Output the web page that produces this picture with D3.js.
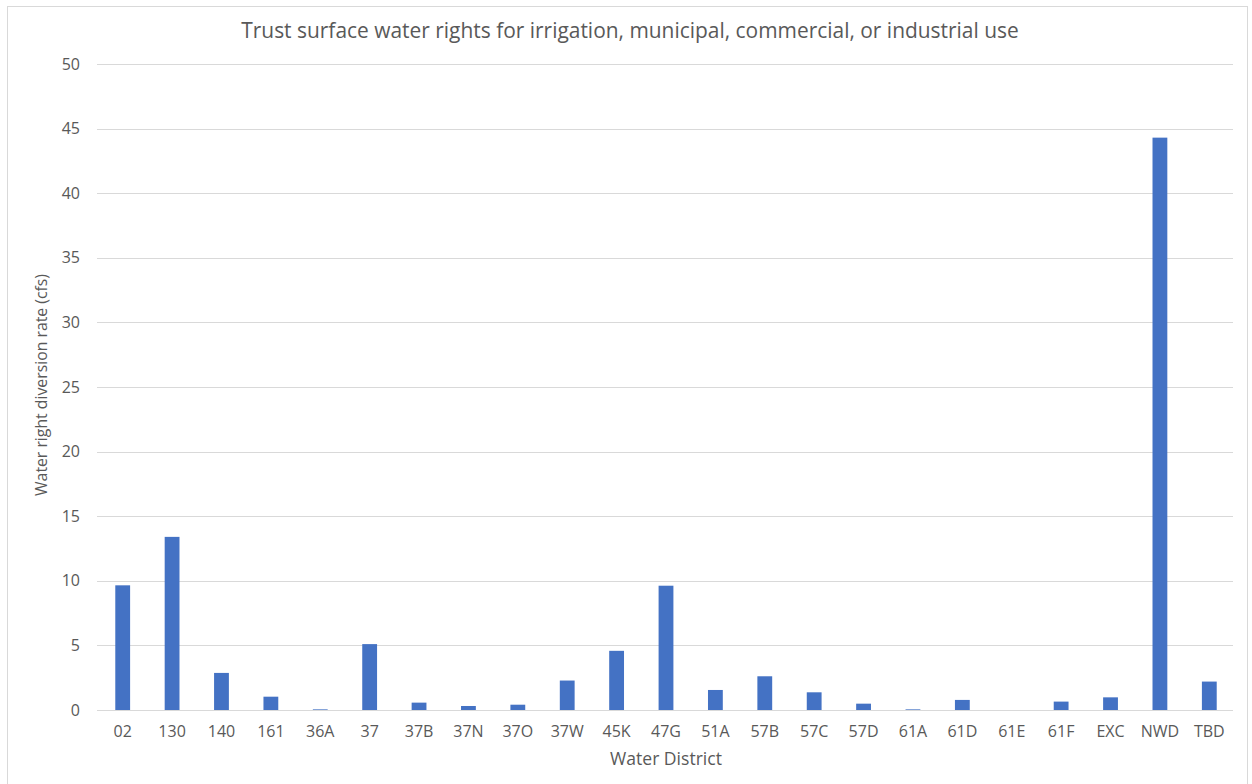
<!DOCTYPE html>
<html>
<head>
<meta charset="utf-8">
<script src="https://cdn.jsdelivr.net/npm/d3@7"></script>
<style>
  html, body { margin: 0; padding: 0; background: #fff; }
  svg { display: block; }
</style>
</head>
<body>
<svg id="chart" width="1252" height="784"></svg>
<script>
// Water districts and their total diversion rate (cfs)
const districts = ["02","130","140","161","36A","37","37B","37N","37O","37W","45K","47G",
                   "51A","57B","57C","57D","61A","61D","61E","61F","EXC","NWD","TBD"];
const diversionRate = [9.65, 13.4, 2.87, 1.03, 0.05, 5.1, 0.57, 0.31, 0.41, 2.28, 4.58, 9.62,
                       1.55, 2.61, 1.37, 0.49, 0.05, 0.78, 0, 0.65, 0.98, 44.3, 2.2];
const yTicks = [0, 5, 10, 15, 20, 25, 30, 35, 40, 45, 50];

const titleText = "Trust surface water rights for irrigation, municipal, commercial, or industrial use";
const yTitle = "Water right diversion rate (cfs)";
const xTitle = "Water District";

const svg = d3.select("#chart");
const W = 1252, H = 784;
const margin = { top: 64, right: 19, bottom: 74, left: 97 };
const innerW = W - margin.left - margin.right;
const innerH = H - margin.top - margin.bottom;
const textColor = "#595959";
const fontMain = "'Open Sans', 'Noto Sans', sans-serif";

// Chart frame
svg.append("rect")
  .attr("x", 7.5).attr("y", 6.5)
  .attr("width", 1240).attr("height", 790)
  .attr("fill", "#fff").attr("stroke", "#d9d9d9").attr("stroke-width", 1);

const g = svg.append("g").attr("transform", `translate(${margin.left},${margin.top})`);

const x = d3.scaleBand().domain(districts).range([0, innerW]).paddingInner(0.7).paddingOuter(0.35);
const y = d3.scaleLinear().domain([0, 50]).range([innerH, 0]);

// Horizontal gridlines
g.append("g").selectAll("line").data(yTicks).join("line")
  .attr("x1", 0).attr("x2", innerW)
  .attr("y1", d => Math.round(y(d)) + 0.5).attr("y2", d => Math.round(y(d)) + 0.5)
  .attr("stroke", "#d9d9d9").attr("stroke-width", 1);

// Bars
g.append("g").selectAll("rect").data(districts).join("rect")
  .attr("x", d => x(d) + 1)
  .attr("width", x.bandwidth())
  .attr("y", (d, i) => y(diversionRate[i]))
  .attr("height", (d, i) => innerH - y(diversionRate[i]))
  .attr("fill", "#4472C4");

// Y axis labels
const yAxis = g.append("g")
  .call(d3.axisLeft(y).tickValues(yTicks).tickSize(0).tickPadding(17));
yAxis.select(".domain").remove();
yAxis.selectAll("text")
  .attr("fill", textColor).style("font-family", fontMain).style("font-size", "16px");

// X axis labels
const xAxis = g.append("g").attr("transform", `translate(1,${innerH})`)
  .call(d3.axisBottom(x).tickSize(0).tickPadding(16));
xAxis.select(".domain").remove();
xAxis.selectAll("text")
  .attr("fill", textColor).style("font-family", fontMain).style("font-size", "16px");

// Fit a text element to a target width by scaling its font size
function fitWidth(sel, base, target) {
  const w = sel.node().getComputedTextLength();
  sel.style("font-size", (base * target / w).toFixed(2) + "px");
}

// Title
const title = svg.append("text")
  .attr("x", 630).attr("y", 38)
  .attr("text-anchor", "middle")
  .attr("fill", textColor)
  .style("font-family", fontMain).style("font-size", "18px")
  .text(titleText);
fitWidth(title, 18, 778);

// Axis titles
const yt = svg.append("text")
  .attr("transform", "translate(47,385) rotate(-90)")
  .attr("text-anchor", "middle")
  .attr("fill", textColor)
  .style("font-family", fontMain).style("font-size", "16px")
  .text(yTitle);
fitWidth(yt, 16, 222);

const xt = svg.append("text")
  .attr("x", 666).attr("y", 765)
  .attr("text-anchor", "middle")
  .attr("fill", textColor)
  .style("font-family", fontMain).style("font-size", "16px")
  .text(xTitle);
fitWidth(xt, 16, 112);
</script>
</body>
</html>
